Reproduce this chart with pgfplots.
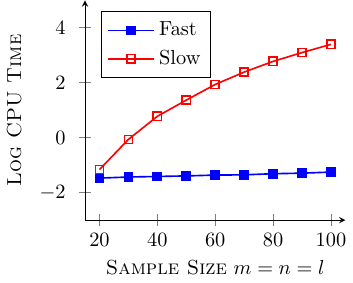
\documentclass[border=0pt]{standalone}
\usepackage{pgfplots}
\pgfplotsset{compat=1.18}
\begin{document}
\begin{tikzpicture}
\begin{axis}[
  scale only axis,
  width=128pt, height=108pt,
  axis lines=left,
  xmin=15, xmax=105, ymin=-3, ymax=5,
  xtick={20,40,60,80,100},
  ytick={-2,0,2,4},
  tick style={gray, thin},
  tick align=center,
  major tick length=6pt,
  yticklabel style={xshift=-3pt},
  xlabel={\textsc{Sample Size} $m=n=l$},
  ylabel={\textsc{Log CPU Time}},
  ylabel style={yshift=2pt},
  legend image code/.code={\draw[mark repeat=2,mark phase=2,#1] plot coordinates {(0cm,0cm)(0.4cm,0cm)(0.8cm,0cm)};},
  legend style={at={(0.06,0.95)}, anchor=north west, font=\normalsize, legend cell align=left, inner sep=3pt, row sep=1.5pt},
]
\addplot[blue, thick, mark=square*, mark size=2pt] coordinates {
(20,-1.47) (30,-1.43) (40,-1.41) (50,-1.39) (60,-1.36) (70,-1.35) (80,-1.31) (90,-1.29) (100,-1.25)};
\addlegendentry{Fast}
\addplot[red, thick, mark=square, mark size=2pt] coordinates {
(20,-1.16) (30,-0.06) (40,0.78) (50,1.37) (60,1.94) (70,2.39) (80,2.78) (90,3.10) (100,3.40)};
\addlegendentry{Slow}
\end{axis}
\end{tikzpicture}
\end{document}
